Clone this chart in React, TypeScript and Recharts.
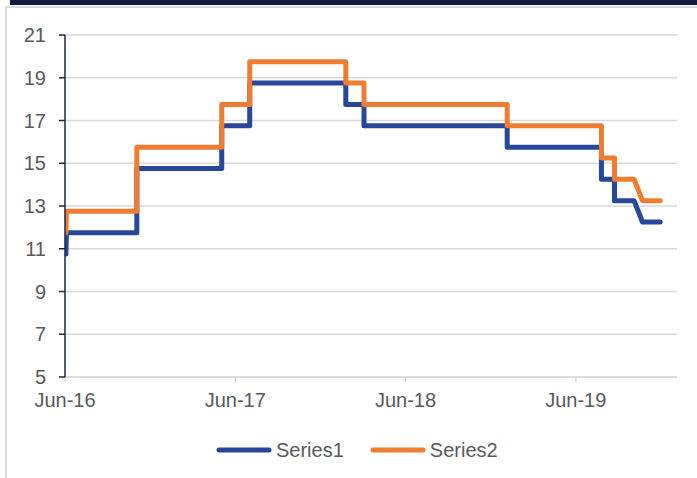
import { CartesianGrid, Legend, Line, LineChart, XAxis, YAxis } from "recharts";

// step points: repeated dates give the vertical jumps
const dates = [
  "2016-06-03", "2016-06-04",
  "2016-11-02", "2016-11-02",
  "2017-05-03", "2017-05-03",
  "2017-07-02", "2017-07-02",
  "2018-01-24", "2018-01-24",
  "2018-03-04", "2018-03-04",
  "2019-01-05", "2019-01-05",
  "2019-07-26", "2019-07-26",
  "2019-08-23", "2019-08-23",
  "2019-10-04", "2019-10-22",
  "2019-11-29",
];
const series1 = [
  10.75, 11.75, 11.75, 14.75, 14.75, 16.75, 16.75, 18.75, 18.75, 17.75, 17.75,
  16.75, 16.75, 15.75, 15.75, 14.25, 14.25, 13.25, 13.25, 12.25, 12.25,
];
const series2 = [
  11.75, 12.75, 12.75, 15.75, 15.75, 17.75, 17.75, 19.75, 19.75, 18.75, 18.75,
  17.75, 17.75, 16.75, 16.75, 15.25, 15.25, 14.25, 14.25, 13.25, 13.25,
];

const xTickDates = ["2016-06-01", "2017-06-01", "2018-06-01", "2019-06-01"];
const xTickLabels = ["Jun-16", "Jun-17", "Jun-18", "Jun-19"];
const xDomain = ["2016-06-01", "2020-01-04"];
const yTicks = [5, 7, 9, 11, 13, 15, 17, 19, 21];

const seriesNames = ["Series1", "Series2"];
const seriesColors = ["#27479a", "#ee7d31"];

const toTime = (d: string) => new Date(d).getTime();

const data = dates.map((d, i) => ({ t: toTime(d), s1: series1[i], s2: series2[i] }));
const xTicks = xTickDates.map(toTime);

const FONT = '"Liberation Sans", Arial, sans-serif';
const TEXT = "#595959";

function LegendBox() {
  return (
    <div style={{ display: "flex", alignItems: "center", height: 24, paddingLeft: 216, fontFamily: FONT, fontSize: 20, color: TEXT }}>
      {seriesNames.map((name, i) => (
        <div key={name} style={{ display: "flex", alignItems: "center", marginLeft: i === 0 ? 0 : 26 }}>
          <svg width={56} height={10}>
            <line x1={3} y1={5} x2={53} y2={5} stroke={seriesColors[i]} strokeWidth={5} strokeLinecap="round" />
          </svg>
          <span style={{ marginLeft: 4 }}>{name}</span>
        </div>
      ))}
    </div>
  );
}

export default function App() {
  return (
    <div style={{ position: "fixed", top: 0, left: 0, width: 697, height: 478, background: "#fff", overflow: "hidden" }}>
      <div style={{ position: "absolute", left: 10, top: 0, width: 687, height: 5, background: "#131b3f" }} />
      <div style={{ position: "absolute", left: 5, top: 6, width: 720, height: 500, borderLeft: "2px solid #dcdcdc", borderTop: "2px solid #dcdcdc" }} />
      <div style={{ position: "absolute", left: 0, top: 0 }}>
        <LineChart width={697} height={478} data={data} margin={{ top: 35, right: 20, bottom: 16, left: 5 }}>
          <CartesianGrid vertical={false} stroke="#d9d9d9" strokeWidth={1.5} />
          <XAxis
            dataKey="t"
            type="number"
            scale="time"
            domain={xDomain.map(toTime)}
            ticks={xTicks}
            tickFormatter={(v: number) => xTickLabels[xTicks.indexOf(v)] ?? ""}
            height={61}
            stroke="#d9d9d9"
            strokeWidth={1.5}
            tickSize={5}
            tickMargin={11}
            tick={{ fill: TEXT, fontSize: 20, fontFamily: FONT }}
            allowDataOverflow
          />
          <YAxis
            type="number"
            domain={[5, 21]}
            ticks={yTicks}
            width={60}
            stroke="#1c2548"
            strokeWidth={1.5}
            tickSize={6}
            tickMargin={13}
            tick={{ fill: TEXT, fontSize: 20, fontFamily: FONT }}
          />
          <Legend
            verticalAlign="bottom"
            content={() => <LegendBox />}
            wrapperStyle={{ left: 0, width: 697, bottom: 16, height: 24 }}
          />
          <Line
            type="linear"
            dataKey="s1"
            name={seriesNames[0]}
            stroke={seriesColors[0]}
            strokeWidth={5}
            strokeLinecap="round"
            strokeLinejoin="round"
            dot={false}
            activeDot={false}
            isAnimationActive={false}
          />
          <Line
            type="linear"
            dataKey="s2"
            name={seriesNames[1]}
            stroke={seriesColors[1]}
            strokeWidth={5}
            strokeLinecap="round"
            strokeLinejoin="round"
            dot={false}
            activeDot={false}
            isAnimationActive={false}
          />
        </LineChart>
      </div>
    </div>
  );
}
